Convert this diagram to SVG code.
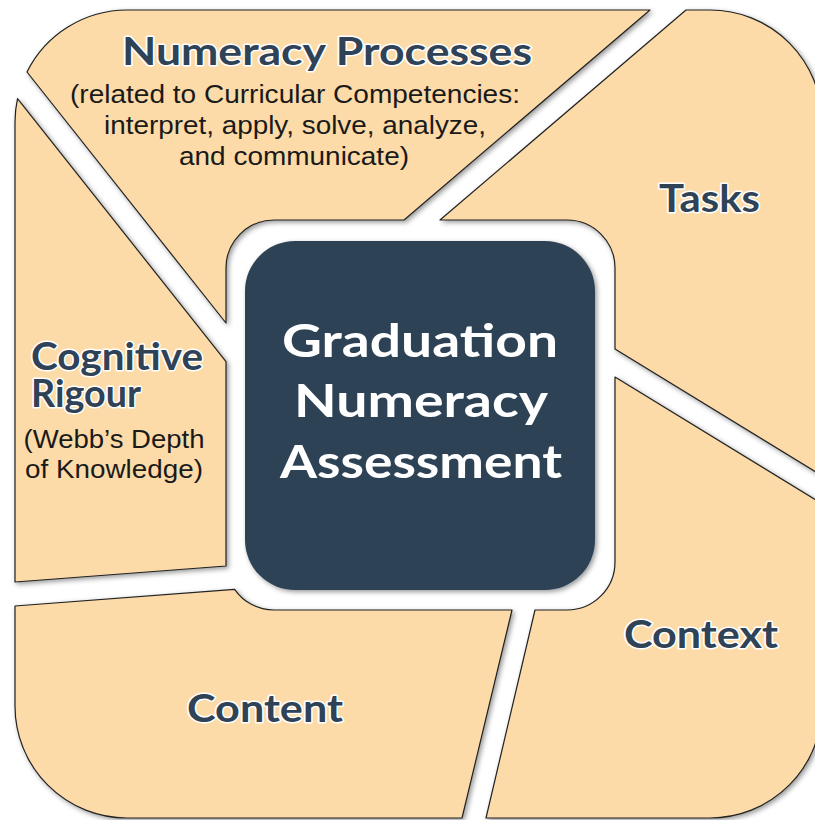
<svg xmlns="http://www.w3.org/2000/svg" width="815" height="820" viewBox="0 0 815 820">
  <defs>
    <filter id="shadow" x="-10%" y="-10%" width="120%" height="120%">
      <feDropShadow dx="2" dy="2" stdDeviation="2.5" flood-color="#000" flood-opacity="0.4"/>
    </filter>
    <style>
      .seg { fill: #FDDBA8; stroke: #222; stroke-width: 1.2; stroke-linejoin: round; filter: url(#shadow); }
      .core { fill: #2F4256; filter: url(#shadow); }
      .head { font-family: "Lato", "Liberation Sans", sans-serif; font-weight: 700; font-size: 38px; fill: #2F4256; stroke: #FFFFFF; stroke-width: 3; paint-order: stroke; stroke-linejoin: round; }
      .sub { font-family: "Liberation Sans", Arial, sans-serif; font-size: 25px; fill: #1a1a1a; }
      .center { font-family: "Lato", "Liberation Sans", sans-serif; font-weight: 700; font-size: 45px; fill: #FFFFFF; }
    </style>
  </defs>
  <rect width="815" height="820" fill="#FFFFFF"/>

  <g id="numeracy-processes">
    <path class="seg" d="M27,72 A112,112 0 0 1 127,10 L650,10 L404,220 L274,220 A48,48 0 0 0 226,268 L226,323 Z"/>
    <text class="head" x="327" y="65" text-anchor="middle" textLength="410" lengthAdjust="spacingAndGlyphs">Numeracy Processes</text>
    <text class="sub" x="295" y="103" text-anchor="middle" textLength="450" lengthAdjust="spacingAndGlyphs">(related to Curricular Competencies:</text>
    <text class="sub" x="295" y="134" text-anchor="middle" textLength="382" lengthAdjust="spacingAndGlyphs">interpret, apply, solve, analyze,</text>
    <text class="sub" x="294" y="165" text-anchor="middle" textLength="230" lengthAdjust="spacingAndGlyphs">and communicate)</text>
  </g>

  <g id="tasks">
    <path class="seg" d="M686,10 L710,10 A112,112 0 0 1 822,122 L822,475.7 L615,349 L615,268 A48,48 0 0 0 567,220 L440,220 Z"/>
    <text class="head" x="709.5" y="212" text-anchor="middle" textLength="101" lengthAdjust="spacingAndGlyphs">Tasks</text>
  </g>

  <g id="context">
    <path class="seg" d="M615,377 L822,503.7 L822,706 A112,112 0 0 1 710,818 L486,818 L535,610 L567,610 A48,48 0 0 0 615,562 Z"/>
    <text class="head" x="701" y="648" text-anchor="middle" textLength="154" lengthAdjust="spacingAndGlyphs">Context</text>
  </g>

  <g id="content">
    <path class="seg" d="M15,606 L234.6,589.3 A48,48 0 0 0 274,610 L512,610 L462,818 L127,818 A112,112 0 0 1 15,706 Z"/>
    <text class="head" x="265" y="721.5" text-anchor="middle" textLength="156" lengthAdjust="spacingAndGlyphs">Content</text>
  </g>

  <g id="cognitive-rigour">
    <path class="seg" d="M17.5,98.6 L226,361.6 L226,566 L15,582 L15,122 A112,112 0 0 1 17.5,98.6 Z"/>
    <text class="head" x="31" y="370" textLength="172" lengthAdjust="spacingAndGlyphs">Cognitive</text>
    <text class="head" x="31" y="406.5" textLength="110" lengthAdjust="spacingAndGlyphs">Rigour</text>
    <text class="sub" x="114" y="448" text-anchor="middle" textLength="181" lengthAdjust="spacingAndGlyphs">(Webb’s Depth</text>
    <text class="sub" x="114" y="478" text-anchor="middle" textLength="178" lengthAdjust="spacingAndGlyphs">of Knowledge)</text>
  </g>

  <g id="graduation-numeracy-assessment">
    <rect class="core" x="245" y="241" width="350" height="349" rx="50" ry="50"/>
    <text class="center" x="420" y="357" text-anchor="middle" textLength="276" lengthAdjust="spacingAndGlyphs">Graduation</text>
    <text class="center" x="421" y="417" text-anchor="middle" textLength="254" lengthAdjust="spacingAndGlyphs">Numeracy</text>
    <text class="center" x="421" y="478" text-anchor="middle" textLength="282" lengthAdjust="spacingAndGlyphs">Assessment</text>
  </g>
</svg>
